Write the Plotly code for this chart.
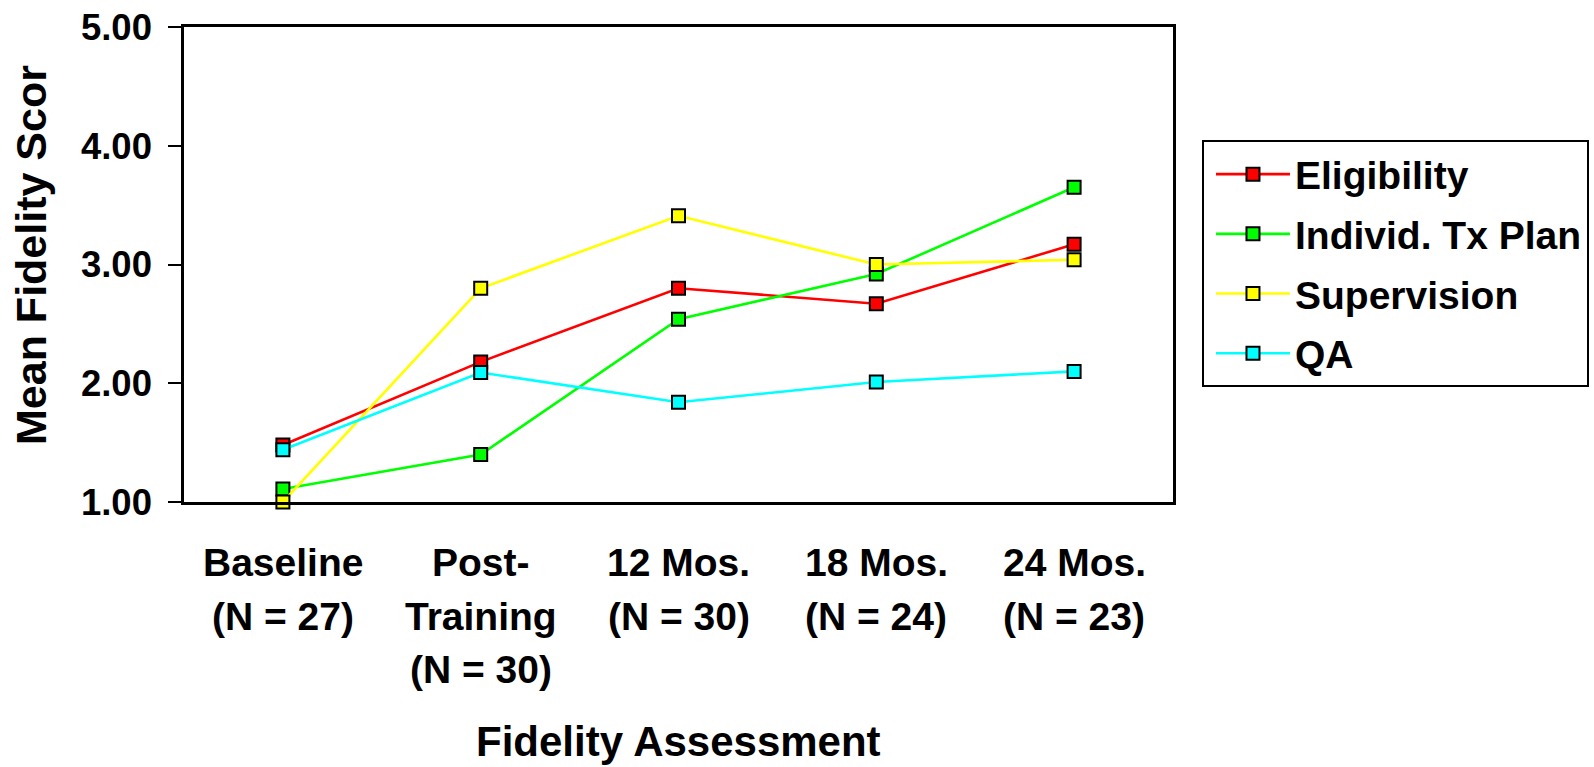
import plotly.graph_objects as go

# Assessment points and their multi-line axis labels
categories = ["Baseline", "Post-Training", "12 Mos.", "18 Mos.", "24 Mos."]
category_label_lines = [
    ["Baseline", "(N = 27)"],
    ["Post-", "Training", "(N = 30)"],
    ["12 Mos.", "(N = 30)"],
    ["18 Mos.", "(N = 24)"],
    ["24 Mos.", "(N = 23)"],
]

# Mean fidelity score per domain
eligibility = [1.48, 2.18, 2.80, 2.67, 3.17]
individ_tx_plan = [1.11, 1.40, 2.54, 2.92, 3.65]
supervision = [1.00, 2.80, 3.41, 3.00, 3.04]
qa = [1.44, 2.09, 1.84, 2.01, 2.10]

series_names = ["Eligibility", "Individ. Tx Plan", "Supervision", "QA"]
series_values = [eligibility, individ_tx_plan, supervision, qa]
series_colors = ["#FF0000", "#00FF00", "#FFFF00", "#00FFFF"]

y_ticks = [1, 2, 3, 4, 5]
y_title = "Mean Fidelity Scor"
x_title = "Fidelity Assessment"

FONT = "Liberation Sans, Arial, sans-serif"

fig = go.Figure()
for name, vals, color in zip(series_names, series_values, series_colors):
    fig.add_trace(go.Scatter(
        x=categories, y=vals, name=name, mode="lines+markers",
        legendgroup=name,
        line=dict(color=color, width=2.6),
        marker=dict(symbol="square", size=13, color=color,
                    line=dict(color="black", width=2)),
        cliponaxis=False,
    ))

# Category labels, one text line per annotation so the line pitch is controlled
first_line_offset = 60.8
line_pitch = 53.4
for cat, lines in zip(categories, category_label_lines):
    for i, txt in enumerate(lines):
        fig.add_annotation(
            x=cat, xref="x", y=0, yref="paper", yanchor="middle",
            yshift=-(first_line_offset + i * line_pitch),
            text=txt, showarrow=False,
            font=dict(family=FONT, size=39, color="black", weight="bold"),
        )

# Axis titles
fig.add_annotation(
    x=0.5, xref="paper", y=0, yref="paper", yanchor="top", xanchor="center",
    yshift=-214, text=x_title, showarrow=False,
    font=dict(family=FONT, size=42, color="black", weight="bold"),
)
fig.add_annotation(
    x=0, xref="paper", y=0.5, yref="paper", xanchor="center", yanchor="middle",
    xshift=-153.5, yshift=9, textangle=-90, text=y_title, showarrow=False,
    font=dict(family=FONT, size=43, color="black", weight="bold"),
)

fig.update_layout(
    width=1594, height=767,
    margin=dict(l=184, r=421, t=27, b=265, autoexpand=False),
    paper_bgcolor="white", plot_bgcolor="white",
    showlegend=True,
    legend=dict(
        x=1.0293, xanchor="left", y=0.7615, yanchor="top",
        bordercolor="black", borderwidth=2, bgcolor="white",
        font=dict(family=FONT, size=39, color="black", weight="bold"),
        traceorder="grouped", tracegroupgap=6, itemwidth=74, indentation=7,
    ),
    xaxis=dict(
        type="category", range=[-0.5, 4.5],
        showticklabels=False, ticks="", showgrid=False,
        showline=True, linecolor="black", linewidth=2.5, mirror=True,
        zeroline=False,
    ),
    yaxis=dict(
        range=[1, 5], tickvals=y_ticks, tickformat=".2f",
        ticks="outside", ticklen=13, tickwidth=2, tickcolor="black",
        ticklabelstandoff=9,
        tickfont=dict(family=FONT, size=36.5, color="black", weight="bold"),
        showgrid=False, zeroline=False,
        showline=True, linecolor="black", linewidth=2.5, mirror=True,
    ),
)

fig.write_html("out.html")
